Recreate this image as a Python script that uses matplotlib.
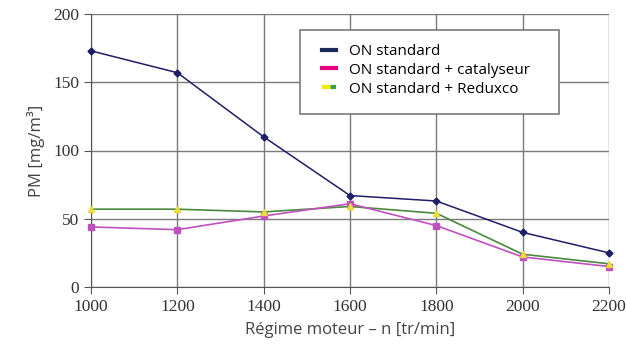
import matplotlib.pyplot as plt
from matplotlib.lines import Line2D
from matplotlib.patches import Rectangle

rpm = [1000, 1200, 1400, 1600, 1800, 2000, 2200]
on_standard = [173, 157, 110, 67, 63, 40, 25]
on_catalyseur = [44, 42, 52, 61, 45, 22, 15]
on_reduxco = [57, 57, 55, 59, 54, 24, 17]
labels = ['ON standard', 'ON standard + catalyseur', 'ON standard + Reduxco']

W, H = 627, 356
fig = plt.figure(figsize=(W / 100, H / 100), dpi=100)
ax = fig.add_axes([91 / W, 1 - 287 / H, (609 - 91) / W, (287 - 14) / H])

ax.plot(rpm, on_reduxco, '-', color='#4a8a3c', lw=1.2, zorder=3)
ax.plot(rpm, on_reduxco, '^', color='#f0e040', ms=5, zorder=5, clip_on=False, mec='#e8d830')
ax.plot(rpm, on_catalyseur, '-s', color='#c050c0', lw=1.2, ms=5, zorder=4, clip_on=False)
ax.plot(rpm, on_standard, '-D', color='#1e1e6a', lw=1.1, ms=3.5, zorder=4, clip_on=False)

ax.set_xlim(1000, 2200)
ax.set_ylim(0, 200)
ax.set_xticks(rpm)
ax.set_yticks([0, 50, 100, 150, 200])
ax.grid(True, color='#7a7a7a', lw=1.0)
ax.set_axisbelow(True)
for s in ['top', 'right']:
    ax.spines[s].set_visible(False)
for s in ['left', 'bottom']:
    ax.spines[s].set_color('#555555')
ax.tick_params(direction='out', length=5, color='#555555', labelcolor='#333333')
for t in ax.get_xticklabels() + ax.get_yticklabels():
    t.set_family('Liberation Serif')
    t.set_fontsize(12.5)

ax.set_xlabel('Régime moteur – n [tr/min]', family='Open Sans', fontsize=12,
              color='#444444', labelpad=5)
ax.set_ylabel('PM [mg/m³]', family='Open Sans', fontsize=12, color='#444444', labelpad=6)

# legend frame drawn separately so it can be sized like the original
box = Rectangle((300 / W, 1 - 114 / H), 259 / W, 84 / H, transform=fig.transFigure,
                facecolor='white', edgecolor='#7a7a7a', lw=1.2, zorder=4)
fig.add_artist(box)

handles = [
    Line2D([], [], color='#1a2a5a', lw=3),
    Line2D([], [], color='#e6007e', lw=3),
    Line2D([], [], color='#f0e800', gapcolor='#3aa040', lw=3, ls=(0, (2, 2))),
]
fig.legend(handles, labels, loc='upper left', bbox_to_anchor=(322 / W, 1 - 44 / H),
           prop={'family': 'Open Sans', 'size': 11}, handlelength=0.92,
           handletextpad=0.85, borderpad=0, borderaxespad=0, labelspacing=0.25,
           frameon=False)

fig.savefig('out.png', dpi=100)
